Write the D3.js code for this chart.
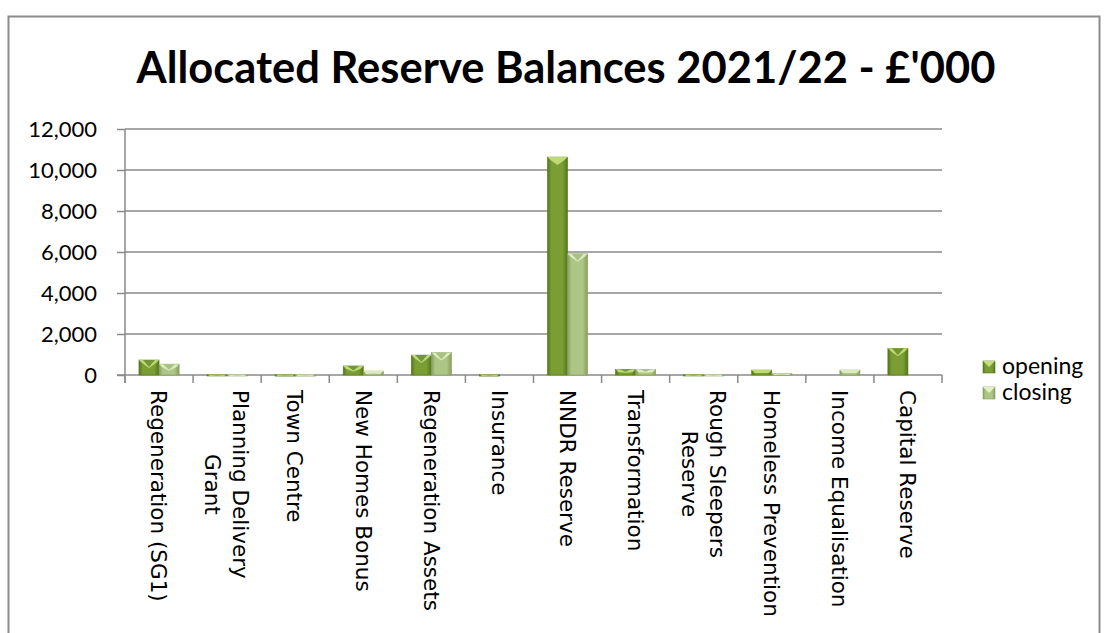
<!DOCTYPE html>
<html>
<head>
<meta charset="utf-8">
<script src="https://cdn.jsdelivr.net/npm/d3@7"></script>
<style>
  body { margin: 0; background: #fff; }
  svg { display: block; }
</style>
</head>
<body>
<div id="chart"></div>
<script>
// data, in £'000
var categories = ["Regeneration (SG1)", "Planning Delivery Grant", "Town Centre", "New Homes Bonus",
  "Regeneration Assets", "Insurance", "NNDR Reserve", "Transformation", "Rough Sleepers Reserve",
  "Homeless Prevention", "Income Equalisation", "Capital Reserve"];
var opening = [730, 25, 20, 440, 970, 20, 10630, 280, 25, 240, 0, 1300];
var closing = [530, 25, 20, 190, 1100, 0, 5910, 280, 25, 70, 240, 0];
var series = ["opening", "closing"];
var yTicks = [0, 2000, 4000, 6000, 8000, 10000, 12000];

// label wrapping as in the original
var labelLines = {
  "Planning Delivery Grant": ["Planning Delivery", "Grant"],
  "Rough Sleepers Reserve": ["Rough Sleepers", "Reserve"]
};

var W = 1108, H = 633;
var plot = {left: 125, right: 942, top: 129, bottom: 375};
var grey = "#8a8a8a";

var svg = d3.select("#chart").append("svg")
  .attr("width", W).attr("height", H);

var defs = svg.append("defs");
var cols = {
  opening: {dark: "#56761c", mid: "#7a9e34", light: "#c4e07e", tri: "#678a26"},
  closing: {dark: "#86a05e", mid: "#adc585", light: "#e2efc7", tri: "#9fb874"}
};
series.forEach(function(s){
  var g = defs.append("linearGradient").attr("id", "grad-" + s)
    .attr("x1", 0).attr("x2", 1).attr("y1", 0).attr("y2", 0);
  g.append("stop").attr("offset", "0%").attr("stop-color", cols[s].dark);
  g.append("stop").attr("offset", "20%").attr("stop-color", cols[s].mid);
  g.append("stop").attr("offset", "75%").attr("stop-color", cols[s].mid);
  g.append("stop").attr("offset", "100%").attr("stop-color", cols[s].dark);
});

// outer frame
svg.append("rect")
  .attr("x", 8.5).attr("y", 16.5)
  .attr("width", 1091).attr("height", 640)
  .attr("fill", "none").attr("stroke", "#8c8c8c").attr("stroke-width", 2);

// title
svg.append("text")
  .attr("x", 566).attr("y", 83)
  .attr("text-anchor", "middle")
  .style("font-family", "Lato, 'Open Sans', sans-serif")
  .style("font-weight", "bold")
  .style("font-size", "43.5px")
  .text("Allocated Reserve Balances 2021/22 - £'000");

// scales
var x0 = d3.scaleBand().domain(categories)
  .range([plot.left, plot.right])
  .paddingInner(0.41).paddingOuter(0.205);
var x1 = d3.scaleBand().domain(series).range([0, x0.bandwidth()]);
var y = d3.scaleLinear().domain([0, 12000]).range([plot.bottom, plot.top]);

// gridlines
svg.append("g")
  .selectAll("line").data(yTicks.slice(1)).enter().append("line")
  .attr("x1", plot.left).attr("x2", plot.right)
  .attr("y1", function(d){ return y(d); }).attr("y2", function(d){ return y(d); })
  .attr("stroke", grey).attr("stroke-width", 1.5);

// y axis
var yAxis = svg.append("g")
  .attr("transform", "translate(" + plot.left + ",0)")
  .call(d3.axisLeft(y).tickValues(yTicks).tickFormat(d3.format(",")).tickSize(8).tickPadding(20));
yAxis.select(".domain").remove();
yAxis.append("line").attr("y1", plot.top).attr("y2", plot.bottom + 8);
yAxis.selectAll("line").attr("stroke", grey).attr("stroke-width", 1.5);
yAxis.selectAll("text")
  .style("font-family", "Lato, 'Open Sans', sans-serif")
  .style("font-size", "22px").attr("fill", "#000");

// x axis: ticks at band boundaries
var step = x0.step();
var xAxis = svg.append("g")
  .attr("transform", "translate(0," + plot.bottom + ")");
xAxis.append("line")
  .attr("x1", plot.left - 8).attr("x2", plot.right)
  .attr("stroke", grey).attr("stroke-width", 1.5);
xAxis.selectAll(".tick-b").data(d3.range(categories.length + 1)).enter().append("line")
  .attr("class", "tick-b")
  .attr("x1", function(i){ return plot.left + i * step; })
  .attr("x2", function(i){ return plot.left + i * step; })
  .attr("y1", 0).attr("y2", 8)
  .attr("stroke", grey).attr("stroke-width", 1.5);

// bars
var rows = categories.map(function(c, i){
  return {cat: c, vals: [{s: "opening", v: opening[i]}, {s: "closing", v: closing[i]}]};
});
var grp = svg.append("g").selectAll("g").data(rows).enter().append("g")
  .attr("transform", function(d){ return "translate(" + x0(d.cat) + ",0)"; });

var bar = grp.selectAll("g").data(function(d){ return d.vals.filter(function(v){ return v.v > 0; }); })
  .enter().append("g");

bar.append("rect")
  .attr("x", function(d){ return x1(d.s); })
  .attr("y", function(d){ return y(d.v); })
  .attr("width", x1.bandwidth())
  .attr("height", function(d){ return Math.max(1.5, y(0) - y(d.v)); })
  .attr("fill", function(d){ return "url(#grad-" + d.s + ")"; })
  .attr("stroke", function(d){ return cols[d.s].dark; })
  .attr("stroke-width", 0.6);

// bevel on top
bar.append("path")
  .attr("d", function(d){
    var bx = x1(d.s), bw = x1.bandwidth(), top = y(d.v);
    var h = Math.max(1.5, y(0) - top);
    var dep = Math.min(8, h * 0.6);
    return "M" + bx + "," + top + "L" + (bx + bw) + "," + top +
      "L" + (bx + bw - 3) + "," + (top + Math.min(3, h)) +
      "L" + (bx + bw / 2) + "," + (top + dep) +
      "L" + (bx + 3) + "," + (top + Math.min(3, h)) + "Z";
  })
  .attr("fill", function(d){ return cols[d.s].light; })
  .attr("opacity", 0.9);

bar.append("path")
  .attr("d", function(d){
    var bx = x1(d.s), bw = x1.bandwidth(), top = y(d.v);
    var h = Math.max(1.5, y(0) - top);
    if (h < 5) return null;
    var dep = Math.min(8, h * 0.6);
    return "M" + (bx + 4) + "," + top + "L" + (bx + bw - 4) + "," + top +
      "L" + (bx + bw / 2) + "," + (top + dep - 1) + "Z";
  })
  .attr("fill", function(d){ return cols[d.s].tri; })
  .attr("opacity", function(d){ return d.s === "opening" && (y(0) - y(d.v)) > 100 ? 0 : 0.85; });

// category labels, rotated to read top to bottom
var lineGap = 28;
var lab = svg.append("g").selectAll("text").data(categories).enter().append("text")
  .attr("transform", function(d){
    return "translate(" + (x0(d) + x0.bandwidth() / 2) + "," + 390 + ") rotate(90)";
  })
  .style("font-family", "'DejaVu Sans', Verdana, sans-serif")
  .style("font-size", "21.5px")
  .attr("fill", "#000");

lab.each(function(d){
  var lines = labelLines[d] || [d];
  var t = d3.select(this);
  var n = lines.length;
  lines.forEach(function(l, i){
    // first line sits right of the band centre
    var off = (i - (n - 1) / 2) * lineGap;
    t.append("tspan").attr("x", 0).attr("y", off).attr("dy", "0.36em").text(l);
  });
  // centre the shorter lines on the longest one
  var spans = t.selectAll("tspan").nodes();
  var maxW = d3.max(spans, function(s){ return s.getComputedTextLength(); });
  spans.forEach(function(s){
    d3.select(s).attr("x", (maxW - s.getComputedTextLength()) / 2);
  });
});

// legend
var leg = svg.append("g").selectAll("g").data(series).enter().append("g")
  .attr("transform", function(d, i){ return "translate(983," + (361 + i * 26) + ")"; });
leg.append("rect")
  .attr("width", 12).attr("height", 12)
  .attr("fill", function(d){ return "url(#grad-" + d + ")"; })
  .attr("stroke", function(d){ return cols[d].dark; }).attr("stroke-width", 0.6);
leg.append("path")
  .attr("d", "M0,0L12,0L6,6Z")
  .attr("fill", function(d){ return cols[d].light; });
leg.append("text")
  .attr("x", 19).attr("y", 6).attr("dy", "0.32em")
  .style("font-family", "Lato, 'Open Sans', sans-serif")
  .style("font-size", "23px")
  .text(function(d){ return d; });
</script>
</body>
</html>
